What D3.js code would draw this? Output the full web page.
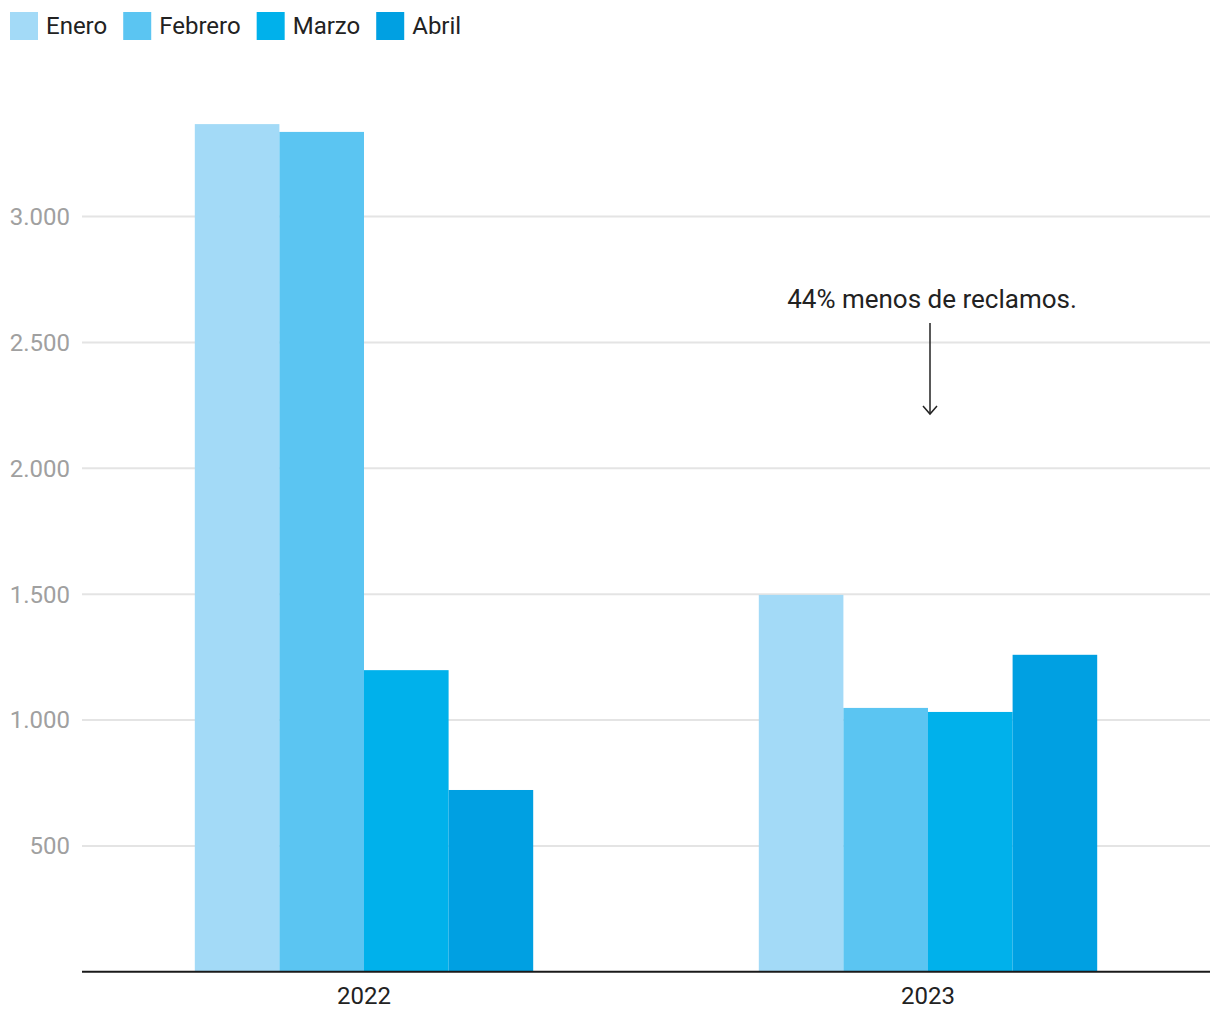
<!DOCTYPE html>
<html><head><meta charset="utf-8">
<script src="https://cdn.jsdelivr.net/npm/d3@7/dist/d3.min.js"></script>
<style>body{margin:0;background:#fff;font-family:Roboto,"Noto Sans",sans-serif;}</style>
</head><body>
<svg id="chart" width="1220" height="1020"></svg>
<script>
const years = ["2022", "2023"];
const months = ["Enero", "Febrero", "Marzo", "Abril"];
const enero = [3367, 1497];
const febrero = [3336, 1048];
const marzo = [1198, 1032];
const abril = [722, 1259];
const yTicks = [500, 1000, 1500, 2000, 2500, 3000];
const colors = ["#a3daf7", "#5bc5f2", "#00b1eb", "#00a0e2"];
const annotationText = "44% menos de reclamos.";

const series = [enero, febrero, marzo, abril];
const data = years.map((y, i) => ({year: y, values: months.map((m, j) => ({month: m, value: series[j][i]}))}));

const svg = d3.select("#chart");
const margin = {left: 82, right: 10, top: 90, bottom: 48};
const W = 1220, H = 1020;
const x0 = d3.scaleBand().domain(years).range([margin.left, W - margin.right]).paddingInner(0).paddingOuter(0);
const x1 = d3.scaleBand().domain(months).range([x0.bandwidth() * 0.2, x0.bandwidth() * 0.8]).padding(0);
const y = d3.scaleLinear().domain([0, 3500]).range([971.75, 971.75 - 3500 * 0.25175]);

const fmt = d3.formatLocale({decimal: ",", thousands: ".", grouping: [3], currency: ["", ""]}).format(",d");

// gridlines
const grid = svg.append("g");
grid.selectAll("line").data(yTicks).join("line")
  .attr("x1", margin.left).attr("x2", W - margin.right)
  .attr("y1", d => y(d)).attr("y2", d => y(d))
  .attr("stroke", "#e4e4e4").attr("stroke-width", 2);

// y labels
svg.append("g").selectAll("text").data(yTicks).join("text")
  .attr("x", 70).attr("y", d => y(d)).attr("dy", "0.35em")
  .attr("text-anchor", "end").attr("fill", "#a0a0a0")
  .attr("font-size", 24).text(d => fmt(d));

// bars
const g = svg.append("g");
g.selectAll("g").data(data).join("g")
  .attr("transform", d => `translate(${x0(d.year)},0)`)
  .selectAll("rect").data(d => d.values).join("rect")
  .attr("x", d => x1(d.month)).attr("width", x1.bandwidth())
  .attr("y", d => y(d.value)).attr("height", d => y(0) - y(d.value))
  .attr("fill", (d, i) => colors[i]);

// baseline
svg.append("line").attr("x1", margin.left).attr("x2", W - margin.right)
  .attr("y1", y(0)).attr("y2", y(0)).attr("stroke", "#1a1a1a").attr("stroke-width", 2);

// x axis labels
svg.append("g").selectAll("text").data(years).join("text")
  .attr("x", d => x0(d) + x0.bandwidth() / 2).attr("y", 1004)
  .attr("text-anchor", "middle").attr("fill", "#222").attr("font-size", 24).text(d => d);

// legend
const legend = svg.append("g");
let lx = 10;
months.forEach((m, i) => {
  legend.append("rect").attr("x", lx).attr("y", 12).attr("width", 28).attr("height", 28).attr("fill", colors[i]);
  const t = legend.append("text").attr("x", lx + 36).attr("y", 26).attr("dy", "0.35em")
    .attr("font-size", 24).attr("fill", "#222").text(m);
  lx += 36 + t.node().getComputedTextLength() + 16;
});

// annotation
const ax = x0("2023") + x0.bandwidth() / 2 + 2;
svg.append("text").attr("x", ax + 2).attr("y", 308).attr("text-anchor", "middle")
  .attr("font-size", 26).attr("fill", "#222").text(annotationText);
svg.append("line").attr("x1", ax).attr("x2", ax).attr("y1", 323).attr("y2", 414)
  .attr("stroke", "#222").attr("stroke-width", 1.5);
svg.append("path").attr("d", `M${ax - 7},${406} L${ax},${414} L${ax + 7},${406}`)
  .attr("fill", "none").attr("stroke", "#222").attr("stroke-width", 1.5);
</script>
</body></html>
